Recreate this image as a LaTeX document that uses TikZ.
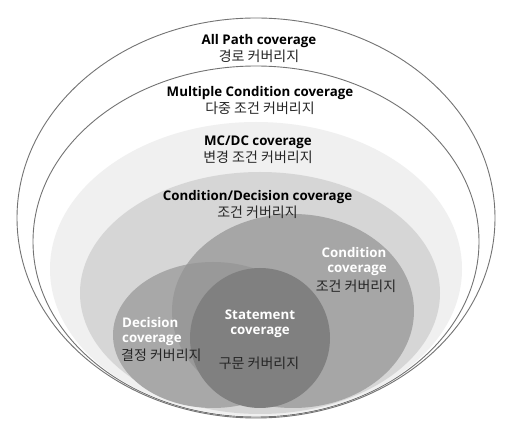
\documentclass[tikz,border=0pt]{standalone}
\usepackage{fontspec}
\setmainfont{Open Sans}
\newfontfamily\krfont{Noto Sans CJK KR}
\begin{document}
\begin{tikzpicture}[x=1pt,y=-1pt]
\tikzset{
  outline/.style={draw=black!55, line width=0.9pt, fill=white},
  entxt/.style={font=\fontsize{13.3}{15}\selectfont\bfseries, text=black, inner sep=0pt},
  whtxt/.style={font=\fontsize{13.3}{15}\selectfont\bfseries, text=white, inner sep=0pt},
  krtxt/.style={font=\fontsize{14}{16}\krfont, text=black!85, inner sep=0pt},
}
\useasboundingbox (0,0) rectangle (512,435);
\fill[white] (0,0) rectangle (512,435);
% outer rings
\path[outline] (256,218) ellipse [x radius=239pt, y radius=200pt];
\path[outline] (256,241.5) ellipse [x radius=223pt, y radius=175.5pt];
% MC/DC
\fill[black!6] (256,269) ellipse [x radius=206pt, y radius=147pt];
% Condition/Decision
\fill[black!16] (260,293) ellipse [x radius=180pt, y radius=121pt];
% Condition
\fill[black!35] (293,311) ellipse [x radius=121pt, y radius=97pt];
% Decision
\fill[black!34] (213,335) ellipse [x radius=100pt, y radius=73pt];
% overlap
\begin{scope}
  \clip (293,311) ellipse [x radius=121pt, y radius=97pt];
  \fill[black!40] (213,335) ellipse [x radius=100pt, y radius=73pt];
\end{scope}
% Statement
\fill[black!50] (260,338) circle [radius=70pt];

% labels
\node[entxt] (ap) at (259,41) {All Path coverage};
\node[krtxt] (apk) at (259,56) {경로 커버리지};
\node[entxt] (mc) at (260,93) {Multiple Condition coverage};
\node[krtxt] (mck) at (260,108) {다중 조건 커버리지};
\node[entxt] (md) at (258,142) {MC/DC coverage};
\node[krtxt] (mdk) at (258,157) {변경 조건 커버리지};
\node[entxt] (cd) at (257.5,197) {Condition/Decision coverage};
\node[krtxt] (cdk) at (257.5,212) {조건 커버리지};

\node[whtxt] (c1) at (354,253) {Condition};
\node[whtxt] (c2) at (357,270) {coverage};
\node[krtxt] (ck) at (356,286) {조건 커버리지};

\node[whtxt, anchor=west] (d1) at (122,323) {Decision};
\node[whtxt, anchor=west] (d2) at (122,340) {coverage};
\node[krtxt, anchor=west] (dk) at (121,355) {결정 커버리지};

\node[whtxt] (s1) at (260,315) {Statement};
\node[whtxt] (s2) at (260,332) {coverage};
\node[krtxt] (sk) at (259,363) {구문 커버리지};
\end{tikzpicture}
\end{document}
